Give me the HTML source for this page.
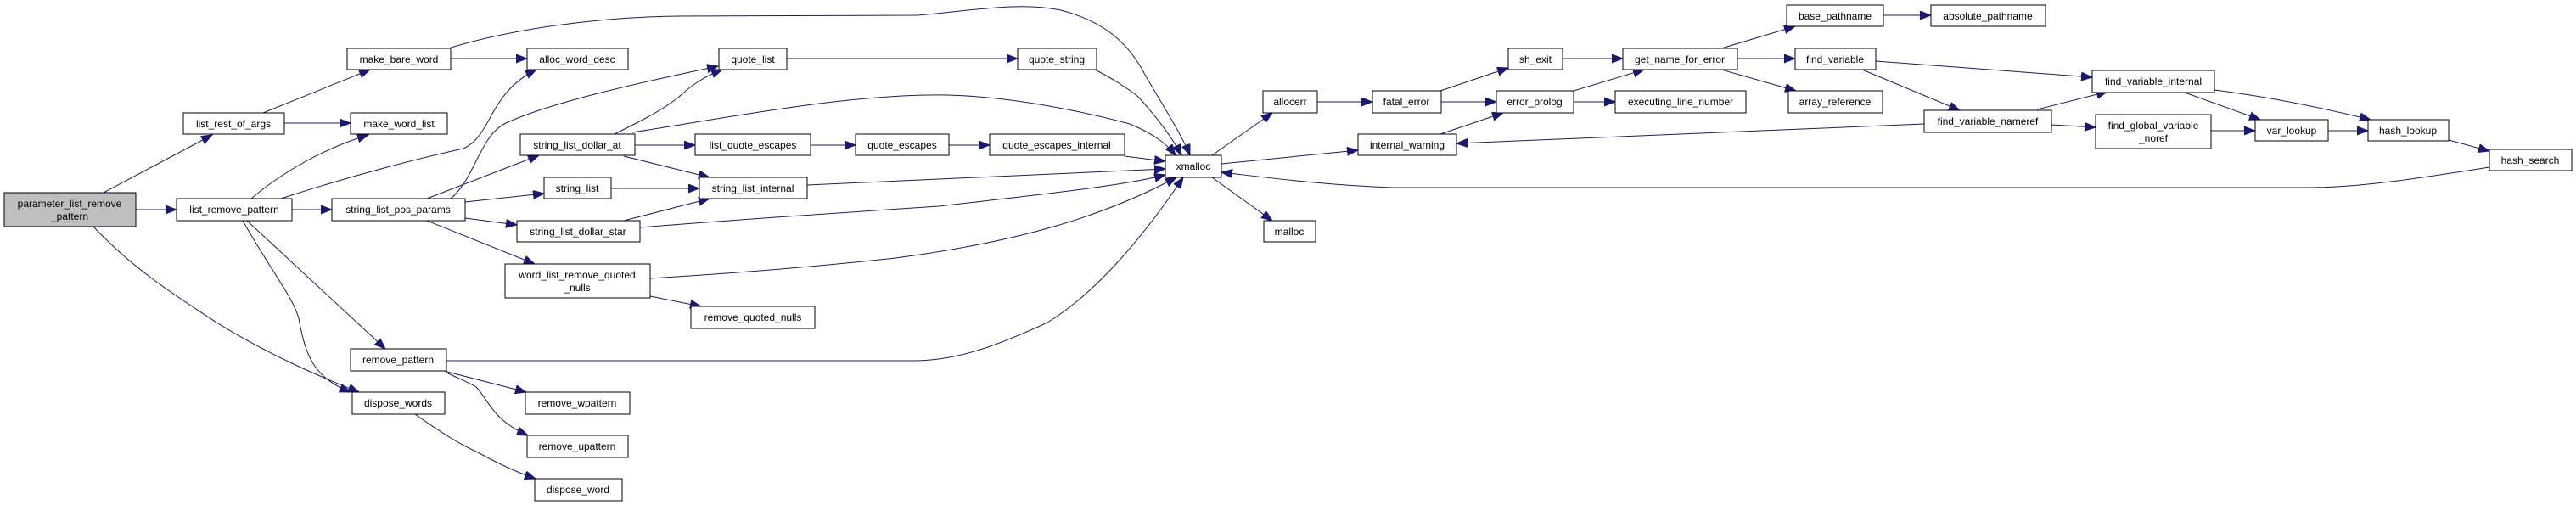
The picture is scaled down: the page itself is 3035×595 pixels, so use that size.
<!DOCTYPE html>
<html><head><meta charset="utf-8"><style>
html,body{margin:0;padding:0;background:#fff;}
svg{display:block;}
text{font-family:"Liberation Sans",sans-serif;font-size:12px;fill:#000;text-anchor:middle;}
.n{fill:#fff;stroke:#000;stroke-width:1;}
.e{fill:none;stroke:#191970;stroke-width:1;}
</style></head><body>
<svg width="3035" height="595" viewBox="0 0 3035 595" xmlns="http://www.w3.org/2000/svg">
<defs>
<marker id="a" markerUnits="userSpaceOnUse" markerWidth="14" markerHeight="11" refX="13" refY="5" orient="auto">
<path d="M0,0 L13,5 L0,10 Z" fill="#191970" stroke="#191970"/>
</marker>
</defs>
<g marker-end="url(#a)">
<path class="e" d="M122,227 L250,159"/>
<path class="e" d="M160,247 L208,247"/>
<path class="e" d="M110,267 C160,320 210,350 255,380 C320,420 380,445 423,462"/>
<path class="e" d="M310,133 L436,82"/>
<path class="e" d="M335,145 L413,145"/>
<path class="e" d="M531,69 L621,69"/>
<path class="e" d="M528,57 C600,35 700,20 800,19 L1081,18 C1150,12 1200,2 1250,12 C1300,25 1330,50 1350,90 C1380,140 1395,165 1402,183"/>
<path class="e" d="M296,234 C330,205 380,175 434,159"/>
<path class="e" d="M331,234 C420,205 500,185 546,175 C580,160 575,110 632,82"/>
<path class="e" d="M344,247 L391,247"/>
<path class="e" d="M291,260 L454,411"/>
<path class="e" d="M286,260 C320,320 345,350 352,375 C360,420 370,445 413,462"/>
<path class="e" d="M531,234 C560,210 565,160 596,145 C650,120 760,96 846,78"/>
<path class="e" d="M724,158 C760,140 780,130 800,114 C815,100 830,90 851,82"/>
<path class="e" d="M745,156 C850,140 1000,110 1116,112 C1200,114 1290,135 1331,146 C1360,158 1375,170 1385,183"/>
<path class="e" d="M748,171 L819,171"/>
<path class="e" d="M735,184 L836,209"/>
<path class="e" d="M503,234 L635,183"/>
<path class="e" d="M548,238 L641,228"/>
<path class="e" d="M548,257 L609,265"/>
<path class="e" d="M503,260 L630,311"/>
<path class="e" d="M720,222 L824,222"/>
<path class="e" d="M735,260 L836,234"/>
<path class="e" d="M754,268 C850,260 1000,250 1106,243 C1200,232 1320,220 1373,206"/>
<path class="e" d="M951,218 L1373,199"/>
<path class="e" d="M766,328 C900,320 1000,310 1055,304 C1200,285 1300,255 1386,209"/>
<path class="e" d="M766,349 L826,361"/>
<path class="e" d="M526,425 L1076,425 C1130,425 1180,405 1234,380 C1300,340 1360,260 1394,209"/>
<path class="e" d="M523,437 L620,462"/>
<path class="e" d="M526,439 C545,448 555,452 561,456 C575,470 580,495 622,513"/>
<path class="e" d="M489,488 C520,510 545,525 561,532 C585,545 605,555 631,564"/>
<path class="e" d="M927,69 L1199,69"/>
<path class="e" d="M1290,82 C1310,92 1330,105 1341,114 C1360,135 1380,160 1392,183"/>
<path class="e" d="M955,171 L1008,171"/>
<path class="e" d="M1118,171 L1166,171"/>
<path class="e" d="M1325,184 L1373,190"/>
<path class="e" d="M1428,183 L1499,133"/>
<path class="e" d="M1428,209 L1499,260"/>
<path class="e" d="M1552,120 L1617,120"/>
<path class="e" d="M1439,193 L1600,177"/>
<path class="e" d="M2933,197 C2850,210 2780,221 2720,221 L1640,221 C1560,218 1500,210 1439,203"/>
<path class="e" d="M1697,107 L1777,80"/>
<path class="e" d="M1698,120 L1763,120"/>
<path class="e" d="M1697,158 L1771,133"/>
<path class="e" d="M1841,69 L1912,69"/>
<path class="e" d="M1854,107 L1937,82"/>
<path class="e" d="M1854,120 L1903,120"/>
<path class="e" d="M2028,57 L2115,31"/>
<path class="e" d="M2047,69 L2115,69"/>
<path class="e" d="M2028,82 L2116,107"/>
<path class="e" d="M2219,18 L2275,18"/>
<path class="e" d="M2210,72 L2465,91"/>
<path class="e" d="M2194,82 L2309,130"/>
<path class="e" d="M2267,146 L1716,169"/>
<path class="e" d="M2400,129 L2483,108"/>
<path class="e" d="M2417,147 L2469,150"/>
<path class="e" d="M2574,109 L2663,141"/>
<path class="e" d="M2609,106 C2680,115 2740,128 2793,141"/>
<path class="e" d="M2605,154 L2657,154"/>
<path class="e" d="M2743,154 L2790,154"/>
<path class="e" d="M2885,165 L2933,178"/>
</g>
<g>
<rect x="5" y="227" width="155" height="40" style="fill:#bfbfbf;stroke:#000"/>
<text x="82" y="244">parameter_list_remove</text><text x="82" y="259">_pattern</text>
<rect class="n" x="216" y="133" width="119" height="25"/><text x="275" y="150">list_rest_of_args</text>
<rect class="n" x="409" y="57" width="122" height="25"/><text x="470" y="74">make_bare_word</text>
<rect class="n" x="621" y="57" width="119" height="25"/><text x="680" y="74">alloc_word_desc</text>
<rect class="n" x="413" y="133" width="114" height="25"/><text x="470" y="150">make_word_list</text>
<rect class="n" x="208" y="234" width="136" height="26"/><text x="276" y="251">list_remove_pattern</text>
<rect class="n" x="391" y="234" width="157" height="26"/><text x="469" y="251">string_list_pos_params</text>
<rect class="n" x="613" y="158" width="135" height="25"/><text x="680" y="175">string_list_dollar_at</text>
<rect class="n" x="641" y="209" width="79" height="25"/><text x="680" y="226">string_list</text>
<rect class="n" x="609" y="260" width="145" height="25"/><text x="681" y="277">string_list_dollar_star</text>
<rect class="n" x="595" y="311" width="171" height="40"/><text x="680" y="328">word_list_remove_quoted</text><text x="680" y="343">_nulls</text>
<rect class="n" x="413" y="411" width="113" height="26"/><text x="469" y="428">remove_pattern</text>
<rect class="n" x="415" y="462" width="109" height="26"/><text x="469" y="479">dispose_words</text>
<rect class="n" x="619" y="462" width="123" height="26"/><text x="680" y="479">remove_wpattern</text>
<rect class="n" x="621" y="513" width="119" height="26"/><text x="680" y="530">remove_upattern</text>
<rect class="n" x="630" y="564" width="103" height="26"/><text x="681" y="581">dispose_word</text>
<rect class="n" x="847" y="57" width="80" height="25"/><text x="887" y="74">quote_list</text>
<rect class="n" x="1199" y="57" width="93" height="25"/><text x="1245" y="74">quote_string</text>
<rect class="n" x="819" y="158" width="136" height="25"/><text x="887" y="175">list_quote_escapes</text>
<rect class="n" x="1008" y="158" width="110" height="25"/><text x="1063" y="175">quote_escapes</text>
<rect class="n" x="1166" y="158" width="159" height="25"/><text x="1245" y="175">quote_escapes_internal</text>
<rect class="n" x="824" y="209" width="127" height="25"/><text x="887" y="226">string_list_internal</text>
<rect class="n" x="814" y="361" width="146" height="26"/><text x="887" y="378">remove_quoted_nulls</text>
<rect class="n" x="1373" y="183" width="66" height="26"/><text x="1406" y="200">xmalloc</text>
<rect class="n" x="1488" y="107" width="64" height="26"/><text x="1520" y="124">allocerr</text>
<rect class="n" x="1489" y="260" width="61" height="25"/><text x="1519" y="277">malloc</text>
<rect class="n" x="1617" y="107" width="81" height="26"/><text x="1657" y="124">fatal_error</text>
<rect class="n" x="1777" y="57" width="64" height="25"/><text x="1809" y="74">sh_exit</text>
<rect class="n" x="1763" y="107" width="91" height="26"/><text x="1808" y="124">error_prolog</text>
<rect class="n" x="1903" y="107" width="154" height="26"/><text x="1980" y="124">executing_line_number</text>
<rect class="n" x="1600" y="158" width="116" height="25"/><text x="1658" y="175">internal_warning</text>
<rect class="n" x="1912" y="57" width="135" height="25"/><text x="1979" y="74">get_name_for_error</text>
<rect class="n" x="2105" y="6" width="114" height="25"/><text x="2162" y="23">base_pathname</text>
<rect class="n" x="2275" y="6" width="135" height="25"/><text x="2342" y="23">absolute_pathname</text>
<rect class="n" x="2115" y="57" width="95" height="25"/><text x="2162" y="74">find_variable</text>
<rect class="n" x="2107" y="107" width="111" height="26"/><text x="2162" y="124">array_reference</text>
<rect class="n" x="2267" y="130" width="150" height="26"/><text x="2342" y="147">find_variable_nameref</text>
<rect class="n" x="2465" y="83" width="144" height="26"/><text x="2537" y="100">find_variable_internal</text>
<rect class="n" x="2469" y="135" width="136" height="40"/><text x="2537" y="152">find_global_variable</text><text x="2537" y="167">_noref</text>
<rect class="n" x="2657" y="141" width="86" height="25"/><text x="2700" y="158">var_lookup</text>
<rect class="n" x="2790" y="141" width="95" height="25"/><text x="2837" y="158">hash_lookup</text>
<rect class="n" x="2933" y="176" width="97" height="25"/><text x="2981" y="193">hash_search</text>
</g>
</svg>
</body></html>
